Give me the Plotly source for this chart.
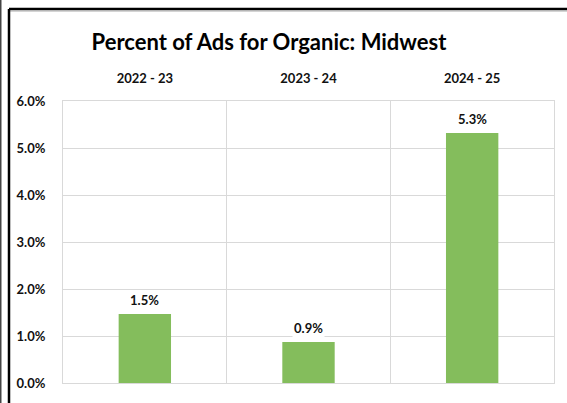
import plotly.graph_objects as go

categories = ["2022 - 23", "2023 - 24", "2024 - 25"]
values = [0.0147, 0.0087, 0.0532]
labels = ["1.5%", "0.9%", "5.3%"]
title_text = "Percent of Ads for Organic: Midwest"

FONT = "Lato"
W, H = 567, 403
L, R, T, B = 63, 13, 101, 20
pw, ph = W - L - R, H - T - B

def px(x):
    return (x - L) / pw

def py(y):
    return (H - B - y) / ph

fig = go.Figure()
fig.add_trace(go.Bar(
    x=categories, y=values,
    marker=dict(color="#84bd5c", line=dict(width=0)),
    width=0.32,
    hoverinfo="skip",
))

for c, v, t in zip(categories, values, labels):
    fig.add_annotation(
        x=c, y=v, text=f"<b>{t}</b>", showarrow=False,
        yanchor="bottom", yshift=4, bgcolor="white",
        font=dict(family=FONT, size=13, color="#111"),
    )

shapes = [
    dict(type="line", xref="paper", yref="paper", x0=px(9), x1=px(W + 5), y0=py(9), y1=py(9),
         line=dict(color="black", width=2.5)),
    dict(type="line", xref="paper", yref="paper", x0=px(10), x1=px(W + 5), y0=py(11), y1=py(11),
         line=dict(color="#aaaaaa", width=1)),
    dict(type="line", xref="paper", yref="paper", x0=px(9), x1=px(9), y0=py(9), y1=py(H + 5),
         line=dict(color="black", width=2.5)),
    dict(type="line", xref="paper", yref="paper", x0=px(0.5), x1=px(0.5), y0=py(-5), y1=py(H + 5),
         line=dict(color="#444444", width=2)),
]

fig.update_layout(
    width=W, height=H,
    margin=dict(l=L, r=R, t=T, b=B),
    paper_bgcolor="white", plot_bgcolor="white",
    showlegend=False,
    font=dict(family=FONT, color="#111"),
    title=dict(text=f"<b>{title_text}</b>", x=269 / W, xanchor="center", xref="container",
               y=1 - 42 / H, yanchor="middle", font=dict(family=FONT, size=22, color="#000")),
    shapes=shapes,
)
fig.update_xaxes(
    side="top", type="category", tickson="boundaries", showgrid=True,
    gridcolor="#d9d9d9", gridwidth=1, ticks="", showline=True, mirror=True,
    linecolor="#d9d9d9", linewidth=1,
    tickfont=dict(family=FONT, size=13, color="#111"), ticklabelstandoff=12,
    tickvals=categories, ticktext=[f"<b>{c}</b>" for c in categories],
)
fig.update_yaxes(
    range=[0, 0.06], dtick=0.01, showgrid=True,
    gridcolor="#d9d9d9", gridwidth=1, ticks="", showline=True, mirror=True,
    linecolor="#d9d9d9", linewidth=1, zeroline=False,
    tickfont=dict(family=FONT, size=13, color="#111"), ticklabelstandoff=14,
    tickvals=[0, 0.01, 0.02, 0.03, 0.04, 0.05, 0.06],
    ticktext=["<b>0.0%</b>", "<b>1.0%</b>", "<b>2.0%</b>", "<b>3.0%</b>", "<b>4.0%</b>", "<b>5.0%</b>", "<b>6.0%</b>"],
)

fig.write_html("out.html", config={"displayModeBar": False},
               post_script="document.body.style.margin='0';document.body.style.overflow='hidden';")
